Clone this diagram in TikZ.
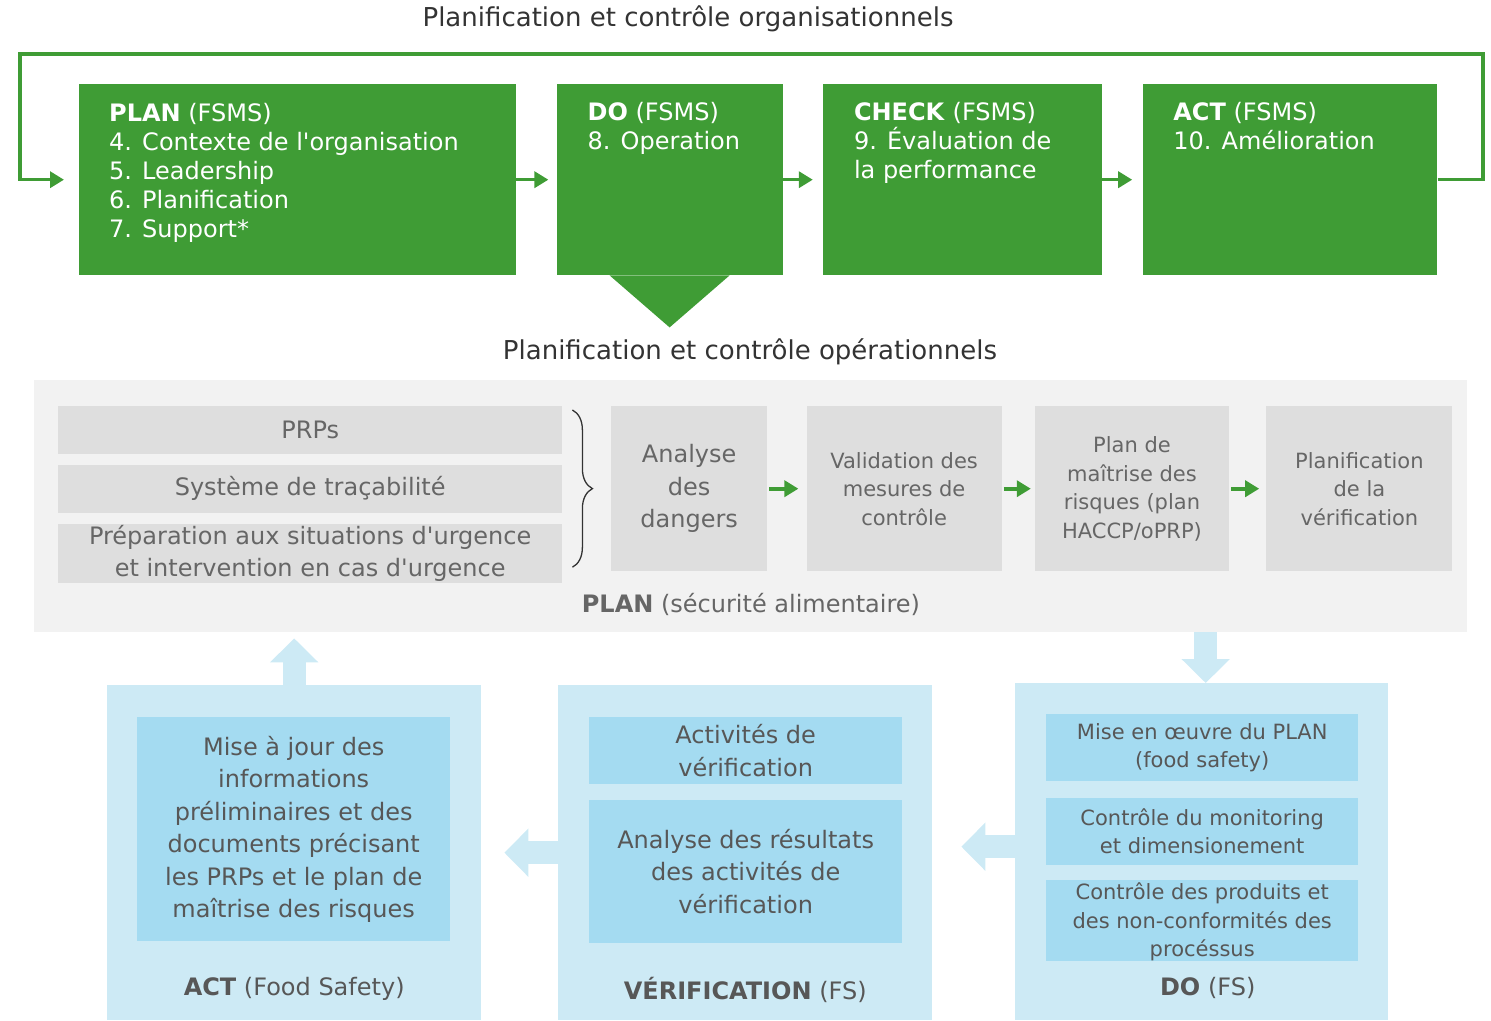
\documentclass[tikz,border=0pt]{standalone}
\usepackage{fontspec}
\setmainfont{DejaVu Sans}
\usetikzlibrary{positioning,arrows.meta,decorations.pathreplacing}

\definecolor{fsgreen}{HTML}{3F9C35}
\definecolor{panelgray}{HTML}{F2F2F2}
\definecolor{boxgray}{HTML}{DEDEDE}
\definecolor{txtgray}{HTML}{666666}
\definecolor{titlegray}{HTML}{333333}
\definecolor{fsblue}{HTML}{CDEAF5}
\definecolor{fsbluein}{HTML}{A4DBF1}
\definecolor{bluetxt}{HTML}{575757}

\begin{document}
\begin{tikzpicture}[x=1pt,y=-1pt,
  every node/.style={inner sep=0pt,font=\fontsize{24}{32.5}\selectfont},
  smalltxt/.style={font=\fontsize{21}{28.5}\selectfont},
  fsmsbox/.style={fill=fsgreen,minimum height=191pt},
  fsmstxt/.style={text=white,align=left,font=\fontsize{24}{29}\selectfont},
  prpbox/.style={fill=boxgray,text=txtgray,minimum width=504pt,align=center,font=\fontsize{24}{32}\selectfont},
  stepbox/.style={fill=boxgray,text=txtgray,minimum height=165pt,align=center},
  fsout/.style={fill=fsblue,minimum width=374pt},
  fsin/.style={fill=fsbluein,text=bluetxt,align=center},
  greenline/.style={draw=fsgreen,line width=3.5pt,-{Triangle[length=14pt,width=16pt]}},
  blockarrow/.style={draw=fsblue,line width=23pt,-{Triangle[length=24pt,width=47pt]}}]
\useasboundingbox (0,0) rectangle (1491,1020);

% FSMS cycle on top
\node[text=titlegray,font=\fontsize{26}{30}\selectfont] (orgtitle) at (688,19) {Planification et contrôle organisationnels};
\node[fsmsbox,minimum width=437pt,anchor=north west] (plan) at (79,84) {};
\node[fsmsbox,minimum width=226pt,right=40pt of plan] (do) {};
\node[fsmsbox,minimum width=279pt,right=40pt of do] (check) {};
\node[fsmsbox,minimum width=294pt,right=41pt of check] (act) {};
\fill[fsgreen] ([xshift=-60pt]do.south) -- ([yshift=-52pt]do.south) -- ([xshift=60pt]do.south) -- cycle;

\node[fsmstxt,below right=19pt and 30pt of plan.north west] (plantxt) {\textbf{PLAN} (FSMS)\\4. Contexte de l\textquotesingle organisation\\5. Leadership\\6. Planification\\7. Support*};
\node[fsmstxt,below right=18pt and 31pt of do.north west] (dotxt) {\textbf{DO} (FSMS)\\8. Operation};
\node[fsmstxt,below right=18pt and 31pt of check.north west] (checktxt) {\textbf{CHECK} (FSMS)\\9. Évaluation de\\la performance};
\node[fsmstxt,below right=18pt and 30pt of act.north west] (acttxt) {\textbf{ACT} (FSMS)\\10. Amélioration};

\draw[greenline,shorten >=8pt] (plan.east) -- (plan.east -| do.west);
\draw[greenline,shorten >=10pt] (do.east) -- (check.west);
\draw[greenline,shorten >=11pt] (check.east) -- (act.west);
\coordinate (loopne) at (1483,54);
\coordinate (loopnw) at (20,54);
\draw[greenline,shorten >=15pt] (act.east) -| (loopne) -- (loopnw) |- (plan.west);

% operational planning
\node[text=titlegray,font=\fontsize{26}{30}\selectfont] (optitle) at (750,352) {Planification et contrôle opérationnels};
\node[fill=panelgray,minimum width=1433pt,minimum height=252pt,anchor=north west] (panel) at (34,380) {};
\node[prpbox,minimum height=48pt,anchor=north west] (prp) at (58,406) {PRPs};
\node[prpbox,minimum height=48pt,below=10pt of prp] (trace) {Système de traçabilité};
\node[prpbox,minimum height=59pt,below=11pt of trace] (prep) {Préparation aux situations d\textquotesingle urgence\\et intervention en cas d\textquotesingle urgence};
\draw[titlegray,line width=1.3pt,decorate,decoration={brace,amplitude=20pt}]
  ([xshift=10pt,yshift=-4pt]prp.north east) -- ([xshift=10pt,yshift=16pt]prep.south east);

\node[stepbox,minimum width=156pt,anchor=north west] (hazard) at (611,406) {Analyse\\des\\dangers};
\node[stepbox,smalltxt,minimum width=195pt,right=39pt of hazard] (valid) {Validation des\\mesures de\\contrôle};
\node[stepbox,smalltxt,minimum width=194pt,right=33pt of valid] (haccp) {Plan de\\maîtrise des\\risques (plan\\HACCP/oPRP)};
\node[stepbox,smalltxt,minimum width=186pt,right=37pt of haccp] (verplan) {Planification\\de la\\vérification};
\draw[greenline,line width=4pt,shorten <=2pt,shorten >=8pt] (hazard) -- (valid);
\draw[greenline,line width=4pt,shorten <=2pt,shorten >=4pt] (valid) -- (haccp);
\draw[greenline,line width=4pt,shorten <=2pt,shorten >=7pt] (haccp) -- (verplan);
\node[text=txtgray] (plantitle) at (751,604) {\textbf{PLAN} (sécurité alimentaire)};

% food safety DO / check / ACT
\node[fsout,minimum height=335pt,anchor=north west] (actfs) at (107,685) {};
\node[fsout,minimum height=335pt,anchor=north west] (verfs) at (558,685) {};
\node[fsout,minimum height=337pt,minimum width=373pt,anchor=north west] (dofs) at (1015,683) {};

\node[fsin,minimum width=313pt,minimum height=224pt,anchor=north west] (update) at (137,717) {Mise à jour des\\informations\\préliminaires et des\\documents précisant\\les PRPs et le plan de\\maîtrise des risques};
\node[fsin,minimum width=313pt,minimum height=67pt,anchor=north west] (veract) at (589,717) {Activités de\\vérification};
\node[fsin,minimum width=313pt,minimum height=143pt,below=15pt of veract] (verres) {Analyse des résultats\\des activités de\\vérification};
\node[fsin,smalltxt,minimum width=312pt,minimum height=67pt,anchor=north west] (doplan) at (1046,714) {Mise en œuvre du PLAN\\(food safety)};
\node[fsin,smalltxt,minimum width=312pt,minimum height=67pt,below=16pt of doplan] (domon) {Contrôle du monitoring\\et dimensionement};
\node[fsin,minimum width=312pt,minimum height=81pt,below=15pt of domon] (doprod) {};
\node[text=bluetxt,smalltxt,align=center] (doprodtxt) at ([yshift=-1.5pt]doprod.center) {Contrôle des produits et\\des non-conformités des\\procéssus};

\node[text=bluetxt] (actlbl) at ([yshift=32pt]actfs.south) {\textbf{ACT} (Food Safety)};
\node[text=bluetxt] (verlbl) at ([yshift=30pt]verfs.south) {\textbf{VÉRIFICATION} (FS)};
\node[text=bluetxt] (dolbl) at ([xshift=6pt,yshift=32pt]dofs.south) {\textbf{DO} (FS)};

\draw[blockarrow] ([xshift=4pt]dofs.north |- panel.south) -- ([xshift=4pt]dofs.north);
\draw[blockarrow,shorten >=29pt] ([yshift=5pt]dofs.west) -- ([yshift=5pt]dofs.west -| verfs.east);
\draw[blockarrow,shorten >=23pt] (verfs.west) -- (actfs.east);
\draw[blockarrow,shorten >=6pt] (actfs.north) -- (actfs.north |- panel.south);
\end{tikzpicture}
\end{document}
